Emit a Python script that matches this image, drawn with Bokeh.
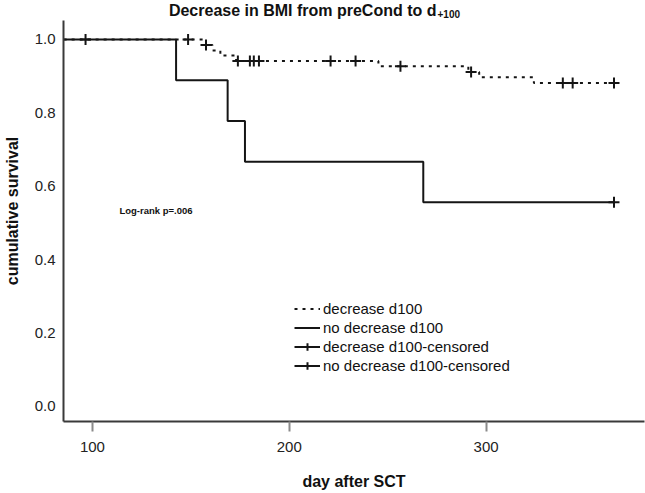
from bokeh.plotting import figure
from bokeh.models import Range1d, FixedTicker, Label, Legend, LegendItem, NumeralTickFormatter
from bokeh.embed import file_html
from bokeh.resources import INLINE

# ---- data ----
dec_event_days = [156, 161, 165, 173, 245.3, 291, 296.5, 324.3]
dec_event_surv = [0.985, 0.970, 0.956, 0.941, 0.927, 0.911, 0.897, 0.881]
dec_censor_days = [148.6, 157.7, 173.9, 180, 182, 184.6, 221, 233.7, 256.5, 292.4, 339, 344, 365]

nodec_event_days = [142.5, 168.7, 177.5, 268.1]
nodec_event_surv = [0.889, 0.778, 0.667, 0.556]
nodec_censor_days = [96.5, 365]

start_day = 0
end_day = 365
x_ticks = [100, 200, 300]
y_ticks = [0.0, 0.2, 0.4, 0.6, 0.8, 1.0]
title_main = "Decrease in BMI from preCond to d"
title_sub = "+100"

FONT = "Liberation Sans"
INK = "#151515"


def step_xy(days, surv):
    xs = [start_day] + list(days) + [end_day]
    ys = [1.0] + list(surv) + [surv[-1]]
    return xs, ys


def surv_at(t, days, surv):
    s = 1.0
    for d, v in zip(days, surv):
        if d <= t:
            s = v
    return s


# frame reaches the top of the canvas so the title (drawn as labels) is not clipped;
# the y axis line is limited with bounds
p = figure(width=645, height=493,
           x_range=Range1d(85.3, 380.5), y_range=Range1d(-0.041, 1.106),
           output_backend="svg", toolbar_location=None,
           min_border_left=61, min_border_right=1, min_border_top=0, min_border_bottom=72)

p.xgrid.visible = False
p.ygrid.visible = False
p.outline_line_color = None
p.background_fill_color = "white"

dx, dy = step_xy(dec_event_days, dec_event_surv)
nx, ny = step_xy(nodec_event_days, nodec_event_surv)

r_dec = p.step(dx, dy, mode="after", line_color=INK, line_width=2, line_dash="3 5")
r_nodec = p.step(nx, ny, mode="after", line_color=INK, line_width=2)

dcy = [surv_at(t, dec_event_days, dec_event_surv) for t in dec_censor_days]
ncy = [surv_at(t, nodec_event_days, nodec_event_surv) for t in nodec_censor_days]
r_dc = p.scatter(dec_censor_days, dcy, marker="cross", size=11, line_color=INK, line_width=2)
r_nc = p.scatter(nodec_censor_days, ncy, marker="cross", size=11, line_color=INK, line_width=2)

# zero-length segments at the censor points: invisible in the plot,
# they supply the long horizontal bar of the "+" symbol in the legend
bar_dc = p.segment(x0=dec_censor_days, y0=dcy, x1=dec_censor_days, y1=dcy,
                   line_color=INK, line_width=2)
bar_nc = p.segment(x0=nodec_censor_days, y0=ncy, x1=nodec_censor_days, y1=ncy,
                   line_color=INK, line_width=2)

# axes
for ax in (p.xaxis, p.yaxis):
    ax.axis_line_width = 2
    ax.axis_line_color = "#3a3a3a"
    ax.minor_tick_line_color = None
    ax.major_label_text_font = FONT
    ax.major_label_text_font_size = "15px"
    ax.major_label_text_color = "#222222"
    ax.axis_label_text_font = FONT
    ax.axis_label_text_font_size = "16px"
    ax.axis_label_text_font_style = "bold"
    ax.axis_label_text_color = "#111111"

p.xaxis.ticker = FixedTicker(ticks=x_ticks)
p.xaxis.major_tick_out = 10
p.xaxis.major_tick_in = 0
p.xaxis.major_tick_line_color = "#8a8a8a"
p.xaxis.major_tick_line_width = 2
p.xaxis.major_label_standoff = 10
p.xaxis.axis_label = "day after SCT"
p.xaxis.axis_label_standoff = 18

p.yaxis.ticker = FixedTicker(ticks=y_ticks)
p.yaxis.bounds = (-0.041, 1.052)
p.yaxis.formatter = NumeralTickFormatter(format="0.0")
p.yaxis.major_tick_out = 0
p.yaxis.major_tick_in = 0
p.yaxis.major_label_standoff = 8
p.yaxis.axis_label = "cumulative survival"
p.yaxis.axis_label_standoff = 11

# title with subscript
p.add_layout(Label(x=373, y=411.5, x_units="screen", y_units="screen",
                   text=title_main, text_align="right", text_baseline="alphabetic",
                   text_font=FONT, text_font_size="16px", text_font_style="bold",
                   text_color="#111111"))
p.add_layout(Label(x=374, y=408, x_units="screen", y_units="screen",
                   text=title_sub, text_align="left", text_baseline="alphabetic",
                   text_font=FONT, text_font_size="10px", text_font_style="bold",
                   text_color="#111111"))

# log-rank note
p.add_layout(Label(x=113.7, y=0.535, text="Log-rank  p=.006", text_baseline="middle",
                   text_font=FONT, text_font_size="9.5px", text_font_style="bold",
                   text_color="#111111"))

legend = Legend(items=[
    LegendItem(label="decrease d100", renderers=[r_dec]),
    LegendItem(label="no decrease d100", renderers=[r_nodec]),
    LegendItem(label="decrease d100-censored", renderers=[r_dc, bar_dc]),
    LegendItem(label="no decrease d100-censored", renderers=[r_nc, bar_nc]),
], location=(231, 46))
legend.label_text_font = FONT
legend.label_text_font_size = "15px"
legend.label_text_color = "#111111"
legend.glyph_width = 26
legend.glyph_height = 19
legend.label_height = 16
legend.label_standoff = 3
legend.spacing = 0
legend.padding = 0
legend.margin = 0
legend.border_line_alpha = 0
legend.background_fill_alpha = 0
p.add_layout(legend)

open("out.html", "w").write(file_html(p, INLINE))
